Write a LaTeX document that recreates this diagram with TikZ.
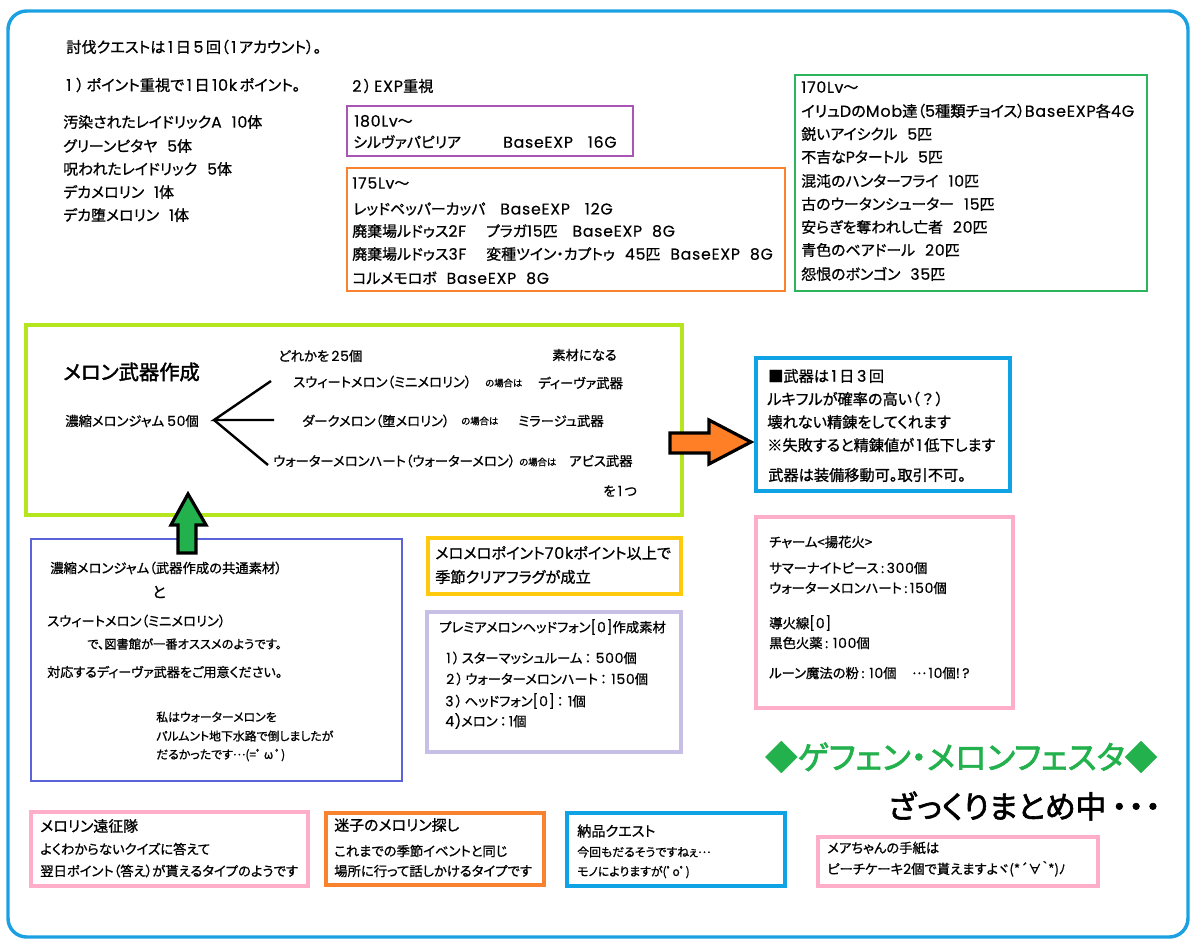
\documentclass[tikz,border=0pt]{standalone}
\usepackage{fontspec}
\setmainfont{Noto Sans CJK JP}[FakeBold=1,RawFeature={+palt}]
\newfontfamily\latfont{Poppins}[FakeBold=0.4,LetterSpace=5,Scale=1.05]
\newfontfamily\titlefont{Noto Sans CJK JP}[FakeBold=2,RawFeature={+palt}]
\newcommand\en[1]{{\latfont #1}}
\newcommand\jpdots{\raisebox{.3em}{…}}
\usepackage{tikz}

\definecolor{frameblue}{HTML}{1BA1E2}
\definecolor{boxpurple}{HTML}{A855B5}
\definecolor{boxorange}{HTML}{F9822E}
\definecolor{boxgreen}{HTML}{2DB55D}
\definecolor{boxlime}{HTML}{B5E61D}
\definecolor{boxblue}{HTML}{0FA3E6}
\definecolor{boxpink}{HTML}{FFAEC9}
\definecolor{boxindigo}{HTML}{5B64D6}
\definecolor{boxgold}{HTML}{FFC90E}
\definecolor{boxlav}{HTML}{C8BFE7}
\definecolor{festgreen}{HTML}{22B14C}
\definecolor{arroworange}{HTML}{FF7F27}

\tikzset{
	txt/.style={anchor=west, inner sep=0pt, font=\fontsize{11.4}{14}\selectfont},
	txtl/.style={anchor=west, inner sep=0pt, font=\fontsize{11.2}{14}\selectfont},
	txtm/.style={anchor=west, inner sep=0pt, font=\fontsize{10.6}{12}\selectfont},
	txts/.style={anchor=west, inner sep=0pt, font=\fontsize{10}{12}\selectfont},
	txtn/.style={anchor=west, inner sep=0pt, font=\fontsize{8.9}{11}\selectfont},
	txtt/.style={anchor=west, inner sep=0pt, font=\fontsize{7}{8}\selectfont},
	thinbox/.style={line width=1.6pt},
	widebox/.style={line width=2.4pt},
	blockarrow/.style={draw=black, line width=2.4pt, miter limit=6}
}

\begin{document}
\begin{tikzpicture}[x=0.75pt, y=-0.75pt]
	\useasboundingbox (0,0) rectangle (1200,947);
	\draw [frameblue, line width=2.6pt, rounded corners=14pt] (8,11) rectangle (1188,937);

	%% boxes
	\draw [boxpurple, thinbox] (347,106) rectangle (633,156);
	\draw [boxorange, thinbox] (347,168) rectangle (785,291);
	\draw [boxgreen, thinbox] (795,75) rectangle (1147,291);
	\draw [boxlime, widebox] (26,325) rectangle (682,515);
	\draw [boxblue, widebox] (756,358) rectangle (1010,491);
	\draw [boxpink, widebox] (756,517) rectangle (1013,708);
	\draw [boxindigo, thinbox] (31,539) rectangle (402,781);
	\draw [boxgold, widebox] (428,538) rectangle (681,594);
	\draw [boxlav, widebox] (427,612) rectangle (681,752);
	\draw [boxpink, widebox] (31,812) rectangle (308,886);
	\draw [boxorange, widebox] (326,813) rectangle (544,885);
	\draw [boxblue, widebox] (567,813) rectangle (785,886);
	\draw [boxpink, widebox] (818,837) rectangle (1098,886);

	%% quest
	\node [txt] (quest) at (66,47) {討伐クエストは\,\en{1}\,日\,\en{5}\,回（\,\en{1}\,アカウント）。};
	\node [txt] (point) at (66,85) {\en{1}\,\,）\,ポイント重視で\,\en{1}\,日\,\en{10k}\,ポイント。};
	\node [txt] (exp) at (352,86) {\en{2}\,）\,\en{EXP}重視};
	\node [txtl] (mobA) at (63,122) {汚染されたレイドリック\en{A\ \ 10}体};
	\node [txtl] (mobB) at (63,146) {グリーンピタヤ\en{\ \ 5}体};
	\node [txtl] (mobC) at (63,169) {呪われたレイドリック\en{\ \ 5}体};
	\node [txtl] (mobD) at (63,192) {デカメロリン\en{\ \ 1}体};
	\node [txtl] (mobE) at (63,215) {デカ堕メロリン\en{\ \ 1}体};

	\node [txtl] (lvA) at (354,121) {\en{180Lv}～};
	\node [txtl] (lvAa) at (353,142) {シルヴァパピリア};
	\node [txtl] (lvAb) at (503,142) {\en{BaseEXP\ \ \ 16G}};

	\node [txtl] (lvB) at (352,183) {\en{175Lv}～};
	\node [txtl] (lvBa) at (353,209) {レッドペッパーカッパ\en{\ \ \ BaseEXP\ \ \ 12G}};
	\node [txtl] (lvBb) at (352,231) {廃棄場ルドゥス\en{2F}\en{\ \ \ \ }プラガ\en{15}匹\en{\ \ \ BaseEXP\ \ 8G}};
	\node [txtl] (lvBc) at (352,254) {廃棄場ルドゥス\en{3F}\en{\ \ \ \ }変種ツイン・カプトゥ\en{\ \ 45}匹\en{\ \ BaseEXP\ \ 8G}};
	\node [txtl] (lvBd) at (352,278) {コルメモロボ\en{\ \ BaseEXP\ \ 8G}};

	\node [txtl] (lvC) at (801,87) {\en{170Lv}～};
	\node [txtl, font=\fontsize{11.4}{14}\selectfont] (lvCa) at (801,111) {イリュ\en{D}の\en{Mob}達（\en{5}種類チョイス）\en{BaseEXP}各\en{4G}};
	\node [txtl] (lvCb) at (801,134) {鋭いアイシクル\en{\ \ 5}匹};
	\node [txtl] (lvCc) at (801,157) {不吉な\en{P}タートル\en{\ \ 5}匹};
	\node [txtl] (lvCd) at (801,181) {混沌のハンターフライ\en{\ \ 10}匹};
	\node [txtl] (lvCe) at (801,204) {古のウータンシューター\en{\ \ 15}匹};
	\node [txtl] (lvCf) at (801,227) {安らぎを奪われし亡者\en{\ \ 20}匹};
	\node [txtl] (lvCg) at (801,250) {青色のベアドール\en{\ \ 20}匹};
	\node [txtl] (lvCh) at (801,274) {怨恨のボンゴン\en{\ \ 35}匹};

	%% melon weapons
	\node [anchor=west, inner sep=0pt, font=\fontsize{15.2}{18}\titlefont] (melon) at (63,372) {メロン武器作成};
	\node [txts] (jam) at (65,421) {濃縮メロンジャム \en{50}個};
	\node [txts] (any) at (278,356) {どれかを\,\en{25}個};
	\node [txts] (mat) at (552,355) {素材になる};
	\node [txts] (sweet) at (293,382) {スウィートメロン（ミニメロリン）};
	\node [txtt] (caseA) at (485,383) {の場合は};
	\node [txts] (diva) at (538,383) {ディーヴァ武器};
	\node [txts] (dark) at (302,421) {ダークメロン（堕メロリン）};
	\node [txtt] (caseB) at (461,421) {の場合は};
	\node [txts] (mirage) at (518,421) {ミラージュ武器};
	\node [txts] (water) at (273,461) {ウォーターメロンハート（ウォーターメロン）};
	\node [txtt] (caseC) at (519,462) {の場合は};
	\node [txts] (abyss) at (569,461) {アビス武器};
	\node [txts] (one) at (603,491) {を\,\en{1}\,つ};

	\coordinate (fork) at (214,420);
	\coordinate (forkA) at (271,381);
	\coordinate (forkB) at (274,420);
	\coordinate (forkC) at (268,465);
	\draw [black, line width=1.8pt] (forkA) -- (fork) -- (forkB);
	\draw [black, line width=1.8pt] (fork) -- (forkC);

	%% refine
	\node [txt] (refA) at (768,376) {■武器は\,\en{1}\,日\,\en{3}\,回};
	\node [txt] (refB) at (767,399) {ルキフルが確率の高い（\,？\,）};
	\node [txt] (refC) at (767,422) {壊れない精錬をしてくれます};
	\node [txt] (refD) at (767,445) {※失敗すると精錬値が\,\en{1}\,低下します};
	\node [txt] (refE) at (768,475) {武器は装備移動可。取引不可。};

	\node [txts] (charm) at (769,542) {チャーム<揚花火>};
	\node [txts] (charmA) at (769,568) {サマーナイトピース\,:\,\en{300}個};
	\node [txts] (charmB) at (769,588) {ウォーターメロンハート\,:\,\en{150}個};
	\node [txts] (charmC) at (769,623) {導火線\en{[0]}};
	\node [txts] (charmD) at (769,643) {黒色火薬\,:\,\,\en{100}個};
	\node [txts] (charmE) at (769,673) {ルーン魔法の粉\,:\,\,\en{10}個\quad\,\jpdots\,\en{10}個\en{!\,?}};

	%% how to
	\node [txts] (howA) at (50,568) {濃縮メロンジャム（武器作成の共通素材）};
	\node [txt] (howB) at (152,592) {と};
	\node [txts] (howC) at (47,621) {スウィートメロン（ミニメロリン）};
	\node [txtn, font=\fontsize{9.2}{11}\selectfont] (howD) at (87,644) {で、図書館が一番オススメのようです。};
	\node [txts, font=\fontsize{9.8}{12}\selectfont] (howE) at (47,672) {対応するディーヴァ武器をご用意ください。};
	\node [txtn] (howF) at (156,717) {私はウォーターメロンを};
	\node [txtn] (howG) at (156,736) {パルムント地下水路で倒しましたが};
	\node [txtn] (howH) at (156,755) {だるかったです\jpdots(=ﾟ\,ω\,ﾟ)};

	\node [txt] (flagA) at (435,553) {メロメロポイント\en{70k}ポイント以上で};
	\node [txt] (flagB) at (435,577) {季節クリアフラグが成立};

	\node [txts] (headA) at (439,627) {プレミアメロンヘッドフォン\en{[0]}作成素材};
	\node [txts] (headB) at (446,658) {\en{1}\,）\,スターマッシュルーム\,：\,\,\en{500}個};
	\node [txts] (headC) at (446,679) {\en{2}\,）\,ウォーターメロンハート\,：\,\,\en{150}個};
	\node [txts] (headD) at (445,701) {\en{3}\,）\,ヘッドフォン\en{[0]}\,：\,\,\en{1}個};
	\node [txts] (headE) at (445,721) {\en{4)}メロン\,：\,\en{1}個};

	%% title
	\node [anchor=west, inner sep=0pt, text=festgreen, font=\fontsize{24.2}{26}\titlefont] (fest) at (765,757) {◆ゲフェン・メロンフェスタ◆};
	\node [anchor=west, inner sep=0pt, font=\fontsize{23.2}{26}\titlefont] (sum) at (888,806) {ざっくりまとめ中\,・\hspace{1pt}・\hspace{1pt}・};

	%% bottom
	\node [txtl] (expA) at (40,826) {メロリン遠征隊};
	\node [txts] (expB) at (40,849) {よくわからないクイズに答えて};
	\node [txts] (expC) at (40,871) {翌日ポイント（答え）が貰えるタイプのようです};
	\node [txtl] (lostA) at (334,825) {迷子のメロリン探し};
	\node [txts] (lostB) at (334,851) {これまでの季節イベントと同じ};
	\node [txts] (lostC) at (334,871) {場所に行って話しかけるタイプです};
	\node [txtm] (delA) at (577,831) {納品クエスト};
	\node [txtn] (delB) at (577,852) {今回もだるそうですねぇ\jpdots};
	\node [txtn] (delC) at (577,872) {モノによりますが(ﾟoﾟ)};
	\node [txts] (mailA) at (827,848) {メアちゃんの手紙は};
	\node [txts] (mailB) at (827,869) {ピーチケーキ\en{2}個で貰えますよヾ(*´∀｀*)ﾉ};

	%% block arrows
	\draw [blockarrow, fill=festgreen] (188,494) -- (206,525) -- (196,525) -- (196,553) -- (178,553) -- (178,525) -- (171,525) -- cycle;
	\draw [blockarrow, fill=arroworange] (751,442) -- (709,464) -- (709,453) -- (670,453) -- (670,433) -- (709,433) -- (709,420) -- cycle;
\end{tikzpicture}
\end{document}
